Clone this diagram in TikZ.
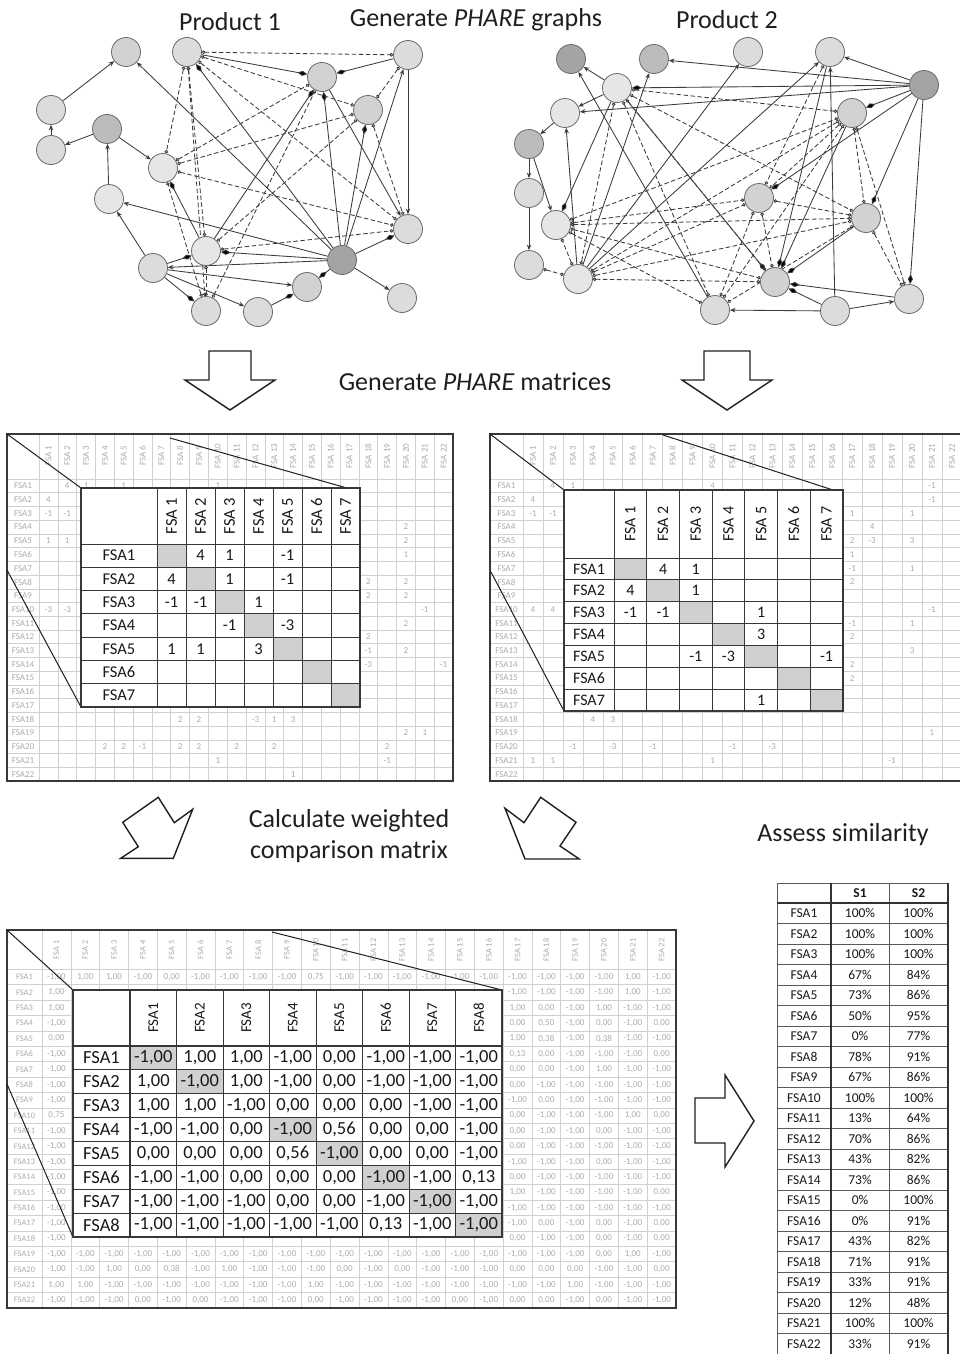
\documentclass[tikz,border=0pt]{standalone}
\usepackage{fontspec}
\setmainfont{Carlito}
\usetikzlibrary{arrows.meta}
\pgfdeclarelayer{bgl}
\pgfdeclarelayer{edges}
\pgfsetlayers{bgl,edges,main}
\definecolor{edgec}{HTML}{3C3C3C}
\definecolor{nodeb}{HTML}{6A6A6A}
\definecolor{gridl}{HTML}{D0D0D0}
\definecolor{bgtext}{HTML}{ACACAC}
\definecolor{diagc}{HTML}{D0D0D0}
\definecolor{framec}{HTML}{383838}
\definecolor{gA}{HTML}{D2D2D2}
\definecolor{gB}{HTML}{DCDCDC}
\definecolor{gC}{HTML}{E6E6E6}
\definecolor{gD}{HTML}{A4A4A4}
\definecolor{gE}{HTML}{BCBCBC}
\def\Mo{-1,00}\def\Po{1,00}\def\Zo{0,00}
\newcommand\BMrow[3]{\foreach \vv [count=\cc from #2] in {#3} {\node[bgv] (bm-#1-\cc) at ({42+28.82*(\cc-0.5)},{969.3+15.39*(#1-0.5)}) {\vv};}}
\newcommand\IBrow[2]{\foreach \vv [count=\cc] in {#2} {\node[ibt] (ib-#1-\cc) at ({130+46.5*(\cc-0.5)},{1046+23.875*(#1-0.5)}) {\vv};}}
\tikzset{
 gnode/.style={circle, draw=nodeb, line width=0.8pt, minimum size=29pt, inner sep=0pt},
 sarr/.style={draw=edgec, line width=0.85pt, -{Stealth[length=5.5pt,width=4.5pt]}},
 sdia/.style={draw=edgec, line width=0.85pt, -{Diamond[length=10pt,width=5pt,fill=black]}},
 dsh/.style={draw=edgec, line width=0.85pt, dash pattern=on 4.5pt off 2.5pt, {Circle[open,length=3.5pt]}-{Circle[open,length=3.5pt]}},
 head/.style={font=\fontsize{26}{31}\selectfont, text=black!88, inner sep=0pt},
 blk/.style={draw=black!88, line width=1.4pt, fill=white, line join=miter},
 bgt/.style={text=bgtext, font=\fontsize{9}{10}\selectfont, inner sep=0pt},
 bgv/.style={text=bgtext, font=\fontsize{9}{10}\selectfont, inner sep=0pt},
 bgg/.style={draw=gridl, line width=0.6pt},
 oframe/.style={draw=framec, line width=1.8pt},
 ingrid/.style={draw=framec, line width=1pt},
 inframe/.style={draw=framec, line width=2.2pt},
 zl/.style={draw=black!88, line width=1pt},
 itl/.style={text=black!90, font=\fontsize{16.5}{18}\selectfont, inner sep=0pt},
 itr/.style={text=black!90, font=\fontsize{16}{18}\selectfont, inner sep=0pt},
 ibt/.style={text=black!90, font=\fontsize{18.5}{20}\selectfont, inner sep=0pt},
 ibh/.style={text=black!90, font=\fontsize{15}{17}\selectfont, inner sep=0pt},
 stt/.style={text=black!90, font=\fontsize{13.5}{15}\selectfont, inner sep=0pt},
 tgrid/.style={draw=black!65, line width=0.8pt},
 tthick/.style={draw=black!80, line width=1.6pt},
}
\begin{document}
\begin{tikzpicture}[x=1pt,y=-1pt]
\useasboundingbox (0,0) rectangle (960,1354);
\begin{pgfonlayer}{bgl}
\fill[white] (0,0) rectangle (960,1354);
\end{pgfonlayer}

% ---------------- headings
\node[head] (t1) at (230,22) {Product 1};
\node[head] (t2) at (476,20) {Generate \textit{PHARE} graphs};
\node[head] (t3) at (727,20) {Product 2};
\node[head] (t4) at (475,382) {Generate \textit{PHARE} matrices};
\node[head, align=center] (t5) at (349,836) {Calculate weighted\\comparison matrix};
\node[head] (t6) at (843,835) {Assess similarity};

% ---------------- left graph
\node[gnode, fill=gA] (L1) at (126,52) {};
\node[gnode, fill=gB] (L2) at (187,52) {};
\node[gnode, fill=gB] (L3) at (408,55) {};
\node[gnode, fill=gA] (L4) at (322,77) {};
\node[gnode, fill=gA] (L5) at (368,110) {};
\node[gnode, fill=gB] (L6) at (51,110) {};
\node[gnode, fill=gE] (L7) at (107,129) {};
\node[gnode, fill=gB] (L8) at (51,150) {};
\node[gnode, fill=gC] (L9) at (163,168) {};
\node[gnode, fill=gC] (L10) at (109,199) {};
\node[gnode, fill=gB] (L11) at (408,229) {};
\node[gnode, fill=gC] (L12) at (206,251) {};
\node[gnode, fill=gD] (L13) at (342,260) {};
\node[gnode, fill=gB] (L14) at (153,268) {};
\node[gnode, fill=gA] (L15) at (307,287) {};
\node[gnode, fill=gB] (L16) at (402,298) {};
\node[gnode, fill=gB] (L17) at (206,311) {};
\node[gnode, fill=gB] (L18) at (258,312) {};

% ---------------- right graph
\node[gnode, fill=gD] (R1) at (571,59) {};
\node[gnode, fill=gE] (R2) at (654,59) {};
\node[gnode, fill=gB] (R3) at (748,52) {};
\node[gnode, fill=gB] (R4) at (830,52) {};
\node[gnode, fill=gD] (R5) at (924,85) {};
\node[gnode, fill=gC] (R6) at (617,88) {};
\node[gnode, fill=gC] (R7) at (565,113) {};
\node[gnode, fill=gA] (R8) at (852,113) {};
\node[gnode, fill=gE] (R9) at (529,144) {};
\node[gnode, fill=gB] (R10) at (529,193) {};
\node[gnode, fill=gC] (R11) at (556,225) {};
\node[gnode, fill=gA] (R12) at (759,198) {};
\node[gnode, fill=gA] (R13) at (866,218) {};
\node[gnode, fill=gB] (R14) at (529,265) {};
\node[gnode, fill=gC] (R15) at (578,279) {};
\node[gnode, fill=gA] (R16) at (775,282) {};
\node[gnode, fill=gB] (R17) at (715,310) {};
\node[gnode, fill=gB] (R18) at (835,311) {};
\node[gnode, fill=gB] (R19) at (909,299) {};

\begin{pgfonlayer}{edges}
% left solid
\draw[sarr] (L6) -- (L1);
\draw[sarr] (L8) -- (L6);
\draw[sarr] (L7) -- (L8);
\draw[sarr] (L7) -- (L9);
\draw[sarr] (L10) -- (L7);
\draw[sarr] (L14) -- (L10);
\draw[sarr] (L13) -- (L10);
\draw[sarr] (L13) -- (L1);
\draw[sdia] (L13) -- (L2);
\draw[sdia] (L2) -- (L4);
\draw[sdia] (L3) -- (L4);
\draw[sarr] (L3) -- (L11);
\draw[sarr] (L13) -- (L3);
\draw[sdia] (L13) -- (L4);
\draw[sdia] (L13) -- (L5);
\draw[sdia] (L13) -- (L11);
\draw[sdia] (L13) -- (L12);
\draw[sarr] (L13) -- (L14);
\draw[sdia] (L13) -- (L15);
\draw[sarr] (L13) -- (L16);
\draw[sdia] (L12) -- (L4);
\draw[sdia] (L12) -- (L9);
\draw[sdia] (L14) -- (L12);
\draw[sdia] (L14) -- (L17);
\draw[sarr] (L14) -- (L18);
\draw[sarr] (L14) -- (L15);
\draw[sdia] (L18) -- (L15);
\draw[sarr] (L4) -- (L11);
% left dashed
\draw[dsh] (L2) -- (L3);
\draw[dsh] (L2) -- (L5);
\draw[dsh] (L2) -- (L9);
\draw[dsh] (L2) -- (L12);
\draw[dsh] (L2) -- (L17);
\draw[dsh] (L2) -- (L11);
\draw[dsh] (L3) -- (L5);
\draw[dsh] (L9) -- (L4);
\draw[dsh] (L9) -- (L5);
\draw[dsh] (L9) -- (L11);
\draw[dsh] (L12) -- (L11);
\draw[dsh] (L17) -- (L4);
\draw[dsh] (L17) -- (L9);
\draw[dsh] (L5) -- (L11);
\draw[dsh] (L5) -- (L12);
\draw[dsh] (L12) -- (L17);
% right solid
\draw[sarr] (R5) -- (R2);
\draw[sarr] (R5) -- (R4);
\draw[sdia] (R5) -- (R6);
\draw[sarr] (R5) -- (R7);
\draw[sdia] (R5) -- (R8);
\draw[sdia] (R5) -- (R12);
\draw[sdia] (R5) -- (R13);
\draw[sdia] (R5) -- (R19);
\draw[sarr] (R6) -- (R1);
\draw[sarr] (R6) -- (R7);
\draw[sarr] (R7) -- (R9);
\draw[sarr] (R9) -- (R10);
\draw[sarr] (R9) -- (R11);
\draw[sarr] (R10) -- (R14);
\draw[sarr] (R15) -- (R7);
\draw[sarr] (R15) -- (R2);
\draw[sarr] (R15) -- (R3);
\draw[sarr] (R15) -- (R4);
\draw[sdia] (R6) -- (R11);
\draw[sarr] (R17) -- (R1);
\draw[sdia] (R6) -- (R16);
\draw[sarr] (R18) -- (R4);
\draw[sdia] (R18) -- (R16);
\draw[sarr] (R18) -- (R17);
\draw[sarr] (R18) -- (R19);
\draw[sdia] (R19) -- (R16);
\draw[sdia] (R8) -- (R16);
\draw[sdia] (R13) -- (R16);
\draw[sdia] (R4) -- (R16);
% right dashed
\draw[dsh] (R6) -- (R8);
\draw[dsh] (R6) -- (R13);
\draw[dsh] (R6) -- (R16);
\draw[dsh] (R6) -- (R17);
\draw[dsh] (R6) -- (R15);
\draw[dsh] (R15) -- (R8);
\draw[dsh] (R15) -- (R12);
\draw[dsh] (R15) -- (R13);
\draw[dsh] (R15) -- (R16);
\draw[dsh] (R15) -- (R11);
\draw[dsh] (R14) -- (R15);
\draw[dsh] (R11) -- (R12);
\draw[dsh] (R11) -- (R13);
\draw[dsh] (R11) -- (R16);
\draw[dsh] (R11) -- (R17);
\draw[dsh] (R11) -- (R8);
\draw[dsh] (R8) -- (R12);
\draw[dsh] (R8) -- (R13);
\draw[dsh] (R8) -- (R19);
\draw[dsh] (R8) -- (R17);
\draw[dsh] (R12) -- (R16);
\draw[dsh] (R12) -- (R17);
\draw[dsh] (R12) -- (R13);
\draw[dsh] (R13) -- (R19);
\draw[dsh] (R13) -- (R17);
\draw[dsh] (R4) -- (R12);
\end{pgfonlayer}

% ---------------- block arrows
\draw[blk] (209,351) -- (251,351) -- (251,380) -- (275,380) -- (230,410) -- (185,380) -- (209,380) -- cycle;
\draw[blk] (704,351) -- (750,351) -- (750,380) -- (772,380) -- (727,410) -- (682,380) -- (704,380) -- cycle;
\draw[blk] (158.3,797.3) -- (174.3,822.7) -- (192.7,809.3) -- (173.3,858.3) -- (120.7,858.3) -- (138.3,846.7) -- (122.7,822.3) -- cycle;
\draw[blk] (540.7,797.3) -- (576,822.3) -- (560,846) -- (579.3,859) -- (525,859) -- (505,808.3) -- (524,822.7) -- cycle;
\draw[blk] (695,1098) -- (725,1098) -- (725,1075) -- (754,1121) -- (725,1167) -- (725,1143) -- (695,1143) -- cycle;

% ================= left PHARE matrix
\fill[white] (7,434) rectangle (453,781);
\foreach \k in {0,...,21} {
  \draw[bgg] ({39+18.82*\k},434) -- ({39+18.82*\k},781);
  \draw[bgg] (7,{479+13.73*\k}) -- (453,{479+13.73*\k});
}
\foreach \k in {1,...,22} {
  \node[bgt, rotate=90] (lpc\k) at ({39+18.82*(\k-0.5)},456) {FSA \k};
  \node[bgt] (lpr\k) at (23,{479+13.73*(\k-0.5)}) {FSA\k};
}
\foreach \ci/\ri/\vv [count=\n] in {2/1/4,3/1/1,5/1/1,10/1/1,1/2/4,1/3/-1,2/3/-1,20/4/2,1/5/1,2/5/1,20/5/2,20/6/1,18/8/2,20/8/2,18/9/2,20/9/2,1/10/-3,2/10/-3,21/10/-1,20/11/2,18/12/2,18/13/-1,20/13/2,18/14/-3,22/14/-1,8/18/2,9/18/2,12/18/-3,13/18/1,14/18/3,20/19/2,21/19/1,4/20/2,5/20/2,6/20/-1,8/20/2,9/20/2,11/20/2,13/20/2,19/20/2,10/21/1,19/21/-1,14/22/1}
  \node[bgt] (lpv\n) at ({39+18.82*(\ci-0.5)},{479+13.73*(\ri-0.5)}) {\vv};
\draw[oframe] (7,434) rectangle (453,781);
\coordinate (lzA) at (7,434); \coordinate (lzB) at (81,488);
\coordinate (lzC) at (170,438); \coordinate (lzD) at (347,488);
\coordinate (lzE) at (7,570); \coordinate (lzF) at (81,707);
\draw[zl] (lzA) -- (lzB); \draw[zl] (lzC) -- (lzD); \draw[zl] (lzE) -- (lzF);
% inner
\fill[white] (81,488) rectangle (360,707);
\foreach \k in {1,...,7} \fill[diagc] ({157+29*(\k-1)},{544+23.29*(\k-1)}) rectangle +(29,23.29);
\foreach \k in {0,...,6} {
  \draw[ingrid] ({157+29*\k},488) -- ({157+29*\k},707);
  \draw[ingrid] (81,{544+23.29*\k}) -- (360,{544+23.29*\k});
}
\draw[inframe] (81,488) rectangle (360,707);
\foreach \k in {1,...,7} {
  \node[itl, rotate=90] (lich\k) at ({157+29*(\k-0.5)},516) {FSA \k};
  \node[itl] (lirh\k) at (119,{544+23.29*(\k-0.5)}) {FSA\k};
}
\foreach \ci/\ri/\vv [count=\n] in {2/1/4,3/1/1,5/1/-1,1/2/4,3/2/1,5/2/-1,1/3/-1,2/3/-1,4/3/1,3/4/-1,5/4/-3,1/5/1,2/5/1,4/5/3}
  \node[itl] (liv\n) at ({157+29*(\ci-0.5)},{544+23.29*(\ri-0.5)}) {\vv};

% ================= right PHARE matrix
\fill[white] (490,434) rectangle (963,781);
\foreach \k in {0,...,21} {
  \draw[bgg] ({523+19.95*\k},434) -- ({523+19.95*\k},781);
  \draw[bgg] (490,{479+13.73*\k}) -- (963,{479+13.73*\k});
}
\foreach \k in {1,...,22} {
  \node[bgt, rotate=90] (rpc\k) at ({523+19.95*(\k-0.5)},456) {FSA \k};
  \node[bgt] (rpr\k) at (506.5,{479+13.73*(\k-0.5)}) {FSA\k};
}
\foreach \ci/\ri/\vv [count=\n] in {2/1/4,3/1/1,10/1/4,21/1/-1,1/2/4,21/2/-1,1/3/-1,2/3/-1,17/3/1,20/3/1,18/4/4,17/5/2,18/5/-3,20/5/3,17/6/1,17/7/-1,20/7/1,17/8/2,1/10/4,2/10/4,21/10/-1,17/11/-1,20/11/1,17/12/2,20/13/3,17/14/2,17/15/2,4/18/4,5/18/3,21/19/1,3/20/-1,5/20/-3,7/20/-1,11/20/-1,13/20/-3,1/21/1,2/21/1,10/21/1,19/21/-1}
  \node[bgt] (rpv\n) at ({523+19.95*(\ci-0.5)},{479+13.73*(\ri-0.5)}) {\vv};
\draw[oframe] (490,434) rectangle (963,781);
\coordinate (rzA) at (490,434); \coordinate (rzB) at (564,490);
\coordinate (rzC) at (663,435); \coordinate (rzD) at (833,490);
\coordinate (rzE) at (491,572); \coordinate (rzF) at (564,711);
\draw[zl] (rzA) -- (rzB); \draw[zl] (rzC) -- (rzD); \draw[zl] (rzE) -- (rzF);
\fill[white] (564,490) rectangle (843,711);
\foreach \k in {1,...,7} \fill[diagc] ({614+32.7*(\k-1)},{558+21.86*(\k-1)}) rectangle +(32.7,21.86);
\foreach \k in {0,...,6} {
  \draw[ingrid] ({614+32.7*\k},490) -- ({614+32.7*\k},711);
  \draw[ingrid] (564,{558+21.86*\k}) -- (843,{558+21.86*\k});
}
\draw[inframe] (564,490) rectangle (843,711);
\foreach \k in {1,...,7} {
  \node[itr, rotate=90] (rich\k) at ({614+32.7*(\k-0.5)},524) {FSA \k};
  \node[itr] (rirh\k) at (589,{558+21.86*(\k-0.5)}) {FSA\k};
}
\foreach \ci/\ri/\vv [count=\n] in {2/1/4,3/1/1,1/2/4,3/2/1,1/3/-1,2/3/-1,5/3/1,5/4/3,3/5/-1,4/5/-3,7/5/-1,5/7/1}
  \node[itr] (riv\n) at ({614+32.7*(\ci-0.5)},{558+21.86*(\ri-0.5)}) {\vv};

% ================= weighted comparison matrix
\fill[white] (7,930) rectangle (676,1308);
\foreach \k in {0,...,21} {
  \draw[bgg] ({42+28.82*\k},930) -- ({42+28.82*\k},1308);
  \draw[bgg] (7,{969.3+15.39*\k}) -- (676,{969.3+15.39*\k});
}
\foreach \k in {1,...,22} {
  \node[bgt, rotate=90, font=\fontsize{8.5}{9}\selectfont] (bmc\k) at ({42+28.82*(\k-0.5)},950) {FSA \k};
  \node[bgt, font=\fontsize{8.5}{9}\selectfont] (bmr\k) at (24.5,{969.3+15.39*(\k-0.5)}) {FSA\k};
}
\BMrow{1}{1}{\Mo,\Po,\Po,\Mo,\Zo,\Mo,\Mo,\Mo,\Mo,{0,75},\Mo,\Mo,\Mo,\Mo,\Mo,\Mo,\Mo,\Mo,\Mo,\Mo,\Po,\Mo}
\foreach \vv [count=\rr from 2] in {\Po,\Po,\Mo,\Zo,\Mo,\Mo,\Mo,\Mo,{0,75},\Mo,\Mo,\Mo,\Mo,\Mo,\Mo,\Mo,\Mo}
  \node[bgv] (bmk\rr) at ({42+28.82*0.5},{969.3+15.39*(\rr-0.5)}) {\vv};
\BMrow{2}{17}{\Mo,\Mo,\Mo,\Mo,\Po,\Mo}
\BMrow{3}{17}{\Po,\Zo,\Mo,\Po,\Mo,\Mo}
\BMrow{4}{17}{\Zo,{0,50},\Mo,\Zo,\Mo,\Zo}
\BMrow{5}{17}{\Po,{0,38},\Mo,{0,38},\Mo,\Mo}
\BMrow{6}{17}{{0,13},\Zo,\Mo,\Mo,\Mo,\Zo}
\BMrow{7}{17}{\Zo,\Zo,\Mo,\Po,\Mo,\Mo}
\BMrow{8}{17}{\Zo,\Mo,\Mo,\Mo,\Mo,\Mo}
\BMrow{9}{17}{\Mo,\Zo,\Mo,\Mo,\Mo,\Mo}
\BMrow{10}{17}{\Zo,\Mo,\Mo,\Mo,\Po,\Zo}
\BMrow{11}{17}{\Zo,\Mo,\Mo,\Zo,\Mo,\Mo}
\BMrow{12}{17}{\Zo,\Mo,\Mo,\Mo,\Mo,\Mo}
\BMrow{13}{17}{\Mo,\Mo,\Mo,\Zo,\Mo,\Mo}
\BMrow{14}{17}{\Zo,\Mo,\Mo,\Mo,\Mo,\Mo}
\BMrow{15}{17}{\Po,\Mo,\Mo,\Mo,\Mo,\Zo}
\BMrow{16}{17}{\Mo,\Mo,\Mo,\Mo,\Mo,\Mo}
\BMrow{17}{17}{\Mo,\Zo,\Mo,\Zo,\Mo,\Zo}
\BMrow{18}{17}{\Zo,\Mo,\Mo,\Zo,\Mo,\Zo}
\BMrow{19}{1}{\Mo,\Mo,\Mo,\Mo,\Mo,\Mo,\Mo,\Mo,\Mo,\Mo,\Mo,\Mo,\Mo,\Mo,\Mo,\Mo,\Mo,\Mo,\Mo,\Zo,\Po,\Mo}
\BMrow{20}{1}{\Mo,\Mo,\Po,\Zo,{0,38},\Mo,\Po,\Mo,\Mo,\Mo,\Zo,\Mo,\Zo,\Mo,\Mo,\Mo,\Zo,\Zo,\Zo,\Mo,\Mo,\Zo}
\BMrow{21}{1}{\Po,\Po,\Mo,\Mo,\Mo,\Mo,\Mo,\Mo,\Mo,\Po,\Mo,\Mo,\Mo,\Mo,\Mo,\Mo,\Mo,\Mo,\Po,\Mo,\Mo,\Mo}
\BMrow{22}{1}{\Mo,\Mo,\Mo,\Zo,\Mo,\Zo,\Mo,\Mo,\Mo,\Zo,\Mo,\Mo,\Mo,\Mo,\Zo,\Mo,\Zo,\Zo,\Mo,\Zo,\Mo,\Mo}
\draw[oframe] (7,930) rectangle (676,1308);
\coordinate (bzA) at (7,930); \coordinate (bzB) at (73,990);
\coordinate (bzC) at (272,932); \coordinate (bzD) at (502,990);
\coordinate (bzE) at (7,1084); \coordinate (bzF) at (73,1237);
\draw[zl] (bzA) -- (bzB); \draw[zl] (bzC) -- (bzD); \draw[zl] (bzE) -- (bzF);
\fill[white] (73,990) rectangle (502,1237);
\foreach \k in {1,2,4,5,6,7,8} \fill[diagc] ({130+46.5*(\k-1)},{1046+23.875*(\k-1)}) rectangle +(46.5,23.875);
\foreach \k in {0,...,7} {
  \draw[ingrid] ({130+46.5*\k},990) -- ({130+46.5*\k},1237);
  \draw[ingrid] (73,{1046+23.875*\k}) -- (502,{1046+23.875*\k});
}
\draw[ingrid, line width=1.8pt] (130,990) -- (130,1237);
\draw[ingrid, line width=1.8pt] (73,1046) -- (502,1046);
\draw[inframe] (73,990) rectangle (502,1237);
\foreach \k in {1,...,8} {
  \node[ibh, rotate=90] (ibc\k) at ({130+46.5*(\k-0.5)},1018) {FSA\k};
  \node[ibt] (ibr\k) at (101.5,{1046+23.875*(\k-0.5)}) {FSA\k};
}
\IBrow{1}{\Mo,\Po,\Po,\Mo,\Zo,\Mo,\Mo,\Mo}
\IBrow{2}{\Po,\Mo,\Po,\Mo,\Zo,\Mo,\Mo,\Mo}
\IBrow{3}{\Po,\Po,\Mo,\Zo,\Zo,\Zo,\Mo,\Mo}
\IBrow{4}{\Mo,\Mo,\Zo,\Mo,{0,56},\Zo,\Zo,\Mo}
\IBrow{5}{\Zo,\Zo,\Zo,{0,56},\Mo,\Zo,\Zo,\Mo}
\IBrow{6}{\Mo,\Mo,\Zo,\Zo,\Zo,\Mo,\Mo,{0,13}}
\IBrow{7}{\Mo,\Mo,\Mo,\Zo,\Zo,\Mo,\Mo,\Mo}
\IBrow{8}{\Mo,\Mo,\Mo,\Mo,\Mo,{0,13},\Mo,\Mo}

% ================= similarity table
\foreach \k in {0,...,22} \draw[tgrid] (777,{903+20.5*\k}) -- (948,{903+20.5*\k});
\draw[tgrid] (777,883) -- (948,883);
\draw[tgrid] (777,883) -- (777,1360);
\draw[tgrid] (889,883) -- (889,1360);
\draw[tthick] (831,883) -- (831,1360);
\draw[tthick] (948,883) -- (948,1360);
\draw[tthick] (777,903) -- (948,903);
\node[stt, font=\bfseries\fontsize{13.5}{15}\selectfont] (sh1) at (860,893) {S1};
\node[stt, font=\bfseries\fontsize{13.5}{15}\selectfont] (sh2) at (918.5,893) {S2};
\foreach \aa/\bb [count=\rr] in {100/100,100/100,100/100,67/84,73/86,50/95,0/77,78/91,67/86,100/100,13/64,70/86,43/82,73/86,0/100,0/91,43/82,71/91,33/91,12/48,100/100,33/91} {
  \node[stt] (sl\rr) at (804,{903+20.5*(\rr-0.5)}) {FSA\rr};
  \node[stt] (sa\rr) at (860,{903+20.5*(\rr-0.5)}) {\aa\%};
  \node[stt] (sb\rr) at (918.5,{903+20.5*(\rr-0.5)}) {\bb\%};
}
\end{tikzpicture}
\end{document}
